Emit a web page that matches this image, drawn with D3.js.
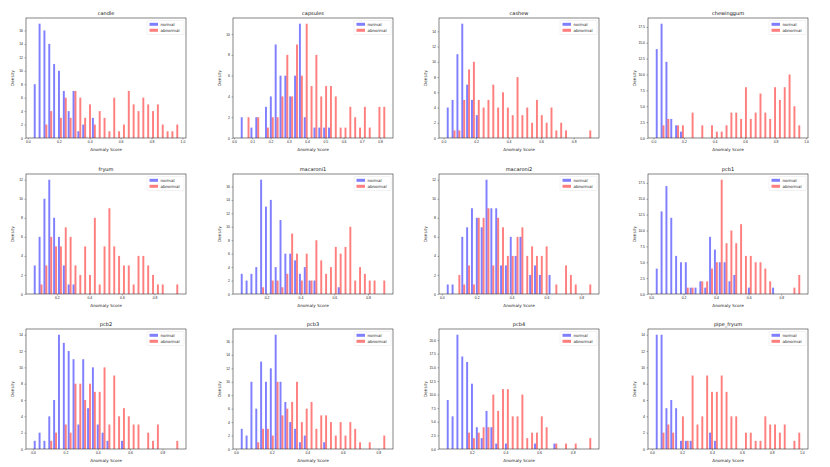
<!DOCTYPE html>
<html>
<head>
<meta charset="utf-8">
<script src="https://cdn.jsdelivr.net/npm/d3@7"></script>
<style>
body { margin: 0; background: #fff; }
svg { display: block; font-family: "DejaVu Sans", sans-serif; }
</style>
</head>
<body>
<div class="container"></div>
<script>
// one panel per category, 30 bins each
const names = ['candle', 'capsules', 'cashew', 'chewinggum', 'fryum', 'macaroni1',
               'macaroni2', 'pcb1', 'pcb2', 'pcb3', 'pcb4', 'pipe_fryum'];

const binStart = [0.035, 0.0343, 0.0174, 0.0121, 0.0557, 0.0441, 0.0258, 0.0258, 0.001, 0.0233, 0.0483, 0.0211];
const binEnd   = [0.976, 0.8305, 0.911, 0.9646, 0.9485, 0.9045, 0.8595, 0.9198, 0.901, 0.8415, 0.913, 0.993];

const normalCounts = [
    [8,17,16,14,11,10,7,4,7,1,2,0,3,0,0,0,0,0,0,0,0,0,0,0,0,0,0,0,0,0],
    [2,0,1,2,0,3,4,9,6,6,4,6,11,2,0,1,1,1,1,0,0,0,0,0,0,0,0,0,0,0],
    [4,5,11,15,7,5,3,0,0,0,0,0,0,0,0,0,0,0,0,0,0,0,0,0,0,0,0,0,0,0],
    [14,18,12,3,2,1,0,0,0,0,0,0,0,0,0,0,0,0,0,0,0,0,0,0,0,0,0,0,0,0],
    [3,6,10,12,8,6,3,1,1,0,0,0,0,0,0,0,0,0,0,0,0,0,0,0,0,0,0,0,0,0],
    [3,2,3,4,17,13,14,4,11,6,6,5,3,4,2,2,0,0,0,0,1,0,0,0,0,0,0,0,0,0],
    [1,1,0,6,7,9,8,7,12,9,9,3,3,6,4,6,0,2,3,2,0,2,0,0,0,0,0,0,0,0],
    [4,13,17,12,6,5,5,1,1,2,1,9,7,5,5,2,3,0,0,1,0,0,0,0,1,0,0,0,0,0],
    [1,2,1,4,6,14,13,12,11,3,11,5,10,3,2,1,0,0,1,0,0,0,0,0,0,0,0,0,0,0],
    [3,2,10,6,13,10,12,17,10,7,4,3,1,2,0,0,0,1,0,0,0,0,0,0,0,0,0,0,0,0],
    [9,6,21,17,16,12,4,2,7,4,1,0,1,0,0,0,0,0,1,0,0,0,1,0,0,0,0,0,0,0],
    [14,14,5,6,5,1,1,1,0,0,0,2,1,0,0,0,0,0,0,0,0,0,0,0,0,0,0,0,0,0]
];

const abnormalCounts = [
    [0,0,2,4,0,3,6,3,7,6,3,5,2,4,3,1,6,1,2,7,5,4,6,5,4,5,2,1,1,2],
    [0,2,0,2,0,1,2,2,4,8,4,9,6,11,5,8,4,5,5,4,1,1,3,2,1,3,1,0,3,3],
    [0,1,1,5,9,10,5,4,5,7,4,6,4,3,8,3,4,2,5,3,2,4,1,2,1,0,0,0,0,1],
    [0,2,3,0,2,2,0,4,0,2,0,2,1,1,2,4,4,3,8,3,4,7,4,3,8,6,8,10,5,2],
    [0,1,3,6,5,5,7,6,3,2,5,2,8,1,5,9,5,4,3,3,1,4,4,3,2,1,1,0,0,1],
    [0,0,0,0,1,0,2,2,1,3,9,6,2,6,2,8,5,3,4,7,6,7,10,2,4,3,2,2,0,2],
    [0,0,2,1,3,1,8,8,9,3,8,7,4,4,6,7,4,5,4,4,5,0,1,0,3,2,1,0,0,1],
    [0,0,0,0,0,0,1,1,0,2,2,4,5,18,8,10,8,11,6,6,5,5,4,2,0,0,0,0,1,3],
    [0,0,0,1,2,0,3,2,8,8,6,8,7,7,10,3,9,4,5,4,3,3,0,2,1,3,0,0,0,1],
    [0,0,0,1,3,3,2,10,5,6,7,10,4,6,7,3,5,5,4,2,4,2,4,3,1,0,1,0,0,2],
    [0,0,0,0,3,2,3,4,4,10,7,11,11,6,6,10,2,3,3,6,4,0,1,0,1,0,1,0,0,2],
    [0,2,3,2,0,4,1,9,3,4,9,7,7,9,7,4,4,0,2,2,1,1,4,3,3,2,3,0,1,2]
];

const xStep = [0.2, 0.1, 0.2, 0.2, 0.2, 0.2, 0.2, 0.2, 0.2, 0.2, 0.2, 0.2];
const yStep = [2, 2, 2, 2.5, 2, 2, 2, 2.5, 2, 2, 2.5, 2];
const legendLabels = ['normal', 'abnormal'];

const width = 830;
const height = 467;
const colLeft = [26, 233, 439, 648];
const rowTop = [18, 174, 329];
const plotW = 160;
const plotH = 120;
const colors = ['blue', 'red'];

const svg = d3.select('.container').append('svg').attr('width', width).attr('height', height);

names.forEach((name, i) =>
{
    const left = colLeft[i % 4];
    const top = rowTop[Math.floor(i / 4)];
    const g = svg.append('g').attr('transform', `translate(${left},${top})`);

    const n = normalCounts[i].length;
    const span = binEnd[i] - binStart[i];
    const bw = span / n;
    const edges = d3.range(n).map(k => binStart[i] + k * bw);

    const x = d3.scaleLinear()
        .domain([binStart[i] - 0.05 * span, binEnd[i] + 0.05 * span])
        .range([0, plotW]);

    const yMax = d3.max([d3.max(normalCounts[i]), d3.max(abnormalCounts[i])]) * 1.05;
    const y = d3.scaleLinear().domain([0, yMax]).range([plotH, 0]);

    // bars: blue left half, red right half of each bin (80% of bin width)
    [normalCounts[i], abnormalCounts[i]].forEach((counts, s) =>
    {
        g.append('g').selectAll('rect').data(counts).enter().append('rect')
            .attr('x', (d, k) => x(edges[k] + bw * (0.1 + 0.4 * s)))
            .attr('width', x(edges[0] + bw * 0.4) - x(edges[0]))
            .attr('y', d => y(d))
            .attr('height', d => plotH - y(d))
            .attr('fill', colors[s])
            .attr('fill-opacity', 0.5);
    });

    const xTicks = d3.range(Math.ceil(x.domain()[0] / xStep[i] - 1e-9), Math.floor(x.domain()[1] / xStep[i] + 1e-9) + 1)
        .map(k => k * xStep[i]);
    const yTicks = d3.range(0, yMax + 1e-9, yStep[i]);

    const xAxis = g.append('g').attr('transform', `translate(0,${plotH})`)
        .call(d3.axisBottom(x).tickValues(xTicks).tickFormat(d3.format('.1f')).tickSize(1.5).tickPadding(1.5));
    const yAxis = g.append('g')
        .call(d3.axisLeft(y).tickValues(yTicks).tickFormat(yStep[i] % 1 ? d3.format('.1f') : d3.format('d')).tickSize(1.5).tickPadding(1.5));

    [xAxis, yAxis].forEach(a =>
    {
        a.select('.domain').remove();
        a.selectAll('line').attr('stroke', '#333').attr('stroke-width', 0.4);
        a.selectAll('text').attr('font-size', 3.4).attr('fill', '#222');
    });

    g.append('rect').attr('width', plotW).attr('height', plotH)
        .attr('fill', 'none').attr('stroke', '#333').attr('stroke-width', 0.6);

    g.append('text').attr('x', plotW / 2).attr('y', -3.5).attr('text-anchor', 'middle')
        .attr('font-size', 5).attr('fill', '#111').text(name);

    g.append('text').attr('x', plotW / 2).attr('y', plotH + 12.5).attr('text-anchor', 'middle')
        .attr('font-size', 4.2).attr('fill', '#222').text('Anomaly Score');

    g.append('text').attr('transform', `translate(-12.5,${plotH / 2}) rotate(-90)`)
        .attr('text-anchor', 'middle').attr('font-size', 4.2).attr('fill', '#222').text('Density');

    // legend
    const lg = g.append('g').attr('transform', `translate(${plotW - 39},2.5)`);
    lg.append('rect').attr('width', 37).attr('height', 14).attr('rx', 1)
        .attr('fill', '#fff').attr('fill-opacity', 0.8).attr('stroke', '#ddd').attr('stroke-width', 0.4);
    legendLabels.forEach((label, s) =>
    {
        lg.append('rect').attr('x', 2.5).attr('y', 2.3 + s * 6).attr('width', 8.5).attr('height', 3)
            .attr('fill', colors[s]).attr('fill-opacity', 0.5);
        lg.append('text').attr('x', 13.5).attr('y', 5.2 + s * 6).attr('font-size', 4)
            .attr('fill', '#222').text(label);
    });
});
</script>
</body>
</html>
